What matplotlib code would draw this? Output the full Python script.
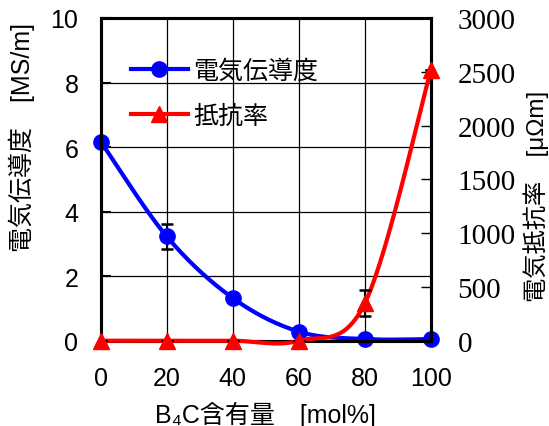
import numpy as np
import matplotlib
matplotlib.use("Agg")
import matplotlib.pyplot as plt

plt.rcParams["font.family"] = ["Liberation Sans", "Noto Sans CJK JP", "DejaVu Sans"]

# data
b4c = [0, 20, 40, 60, 80, 100]
conductivity = [6.17, 3.23, 1.32, 0.28, 0.05, 0.05]          # MS/m
cond_err = [0, 0.4, 0, 0, 0, 0]
resistivity = [0, 0, 0, 0, 350, 2520]                        # uOhm m
res_err = [0, 0, 0, 0, 120, 0]

x_ticks = [0, 20, 40, 60, 80, 100]
left_ticks = [0, 2, 4, 6, 8, 10]
right_ticks = [0, 500, 1000, 1500, 2000, 2500, 3000]


def smooth(xs, ys, xspan, yspan, n=40):
    # Excel-like smoothed line (cubic bezier through the points)
    p = np.column_stack([np.asarray(xs, float) / xspan, np.asarray(ys, float) / yspan])
    ext = np.vstack([p[0], p, p[-1]])
    out = []
    t = np.linspace(0, 1, n)[:, None]
    for i in range(len(p) - 1):
        p0, p3 = ext[i + 1], ext[i + 2]
        c1 = p0 + (ext[i + 2] - ext[i]) / 6
        c2 = p3 - (ext[i + 3] - ext[i + 1]) / 6
        seg = (1 - t) ** 3 * p0 + 3 * (1 - t) ** 2 * t * c1 + 3 * (1 - t) * t ** 2 * c2 + t ** 3 * p3
        out.append(seg)
    out = np.vstack(out)
    return out[:, 0] * xspan, out[:, 1] * yspan


fig = plt.figure(figsize=(5.49, 4.27), dpi=100)
ax = fig.add_axes([100.7 / 549, (427 - 341.7) / 427, 330.3 / 549, 322.7 / 427])
ax2 = ax.twinx()

ax.set_xlim(0, 100)
ax.set_ylim(0, 10)
ax2.set_ylim(0, 3000)

ax.grid(True, color="black", linewidth=0.9)
ax.set_axisbelow(True)

sx, sy = smooth(b4c, conductivity, 100, 10)
ax.plot(sx, sy, color="#0000ff", lw=3, clip_on=False, zorder=3)
ax.errorbar(b4c, conductivity, yerr=cond_err, fmt="none", ecolor="black",
            elinewidth=1.5, capsize=4, capthick=1.8, zorder=4)
ax.plot(b4c, conductivity, "o", color="#0000ff", ms=11, clip_on=False, zorder=5)

rx, ry = smooth(b4c, resistivity, 100, 3000)
ax2.plot(rx, ry, color="#ff0000", lw=3, clip_on=False, zorder=3)
ax2.errorbar(b4c, resistivity, yerr=res_err, fmt="none", ecolor="black",
             elinewidth=1.5, capsize=4, capthick=1.8, zorder=4)
ax2.plot(b4c, resistivity, "^", color="#ff0000", ms=11, clip_on=False, zorder=5)

for a in (ax, ax2):
    for s in a.spines.values():
        s.set_linewidth(2.2)

ax.set_xticks(x_ticks)
ax.set_yticks(left_ticks)
ax2.set_yticks(right_ticks)
ax.tick_params(axis="x", length=0, pad=18, labelsize=18)
ax.tick_params(axis="y", direction="in", length=7, width=1.5, pad=16, labelsize=18)
ax2.tick_params(axis="y", direction="in", length=7, width=1, pad=19, labelsize=21)
for lab in ax2.get_yticklabels():
    lab.set_family(["Liberation Serif", "DejaVu Serif"])

ax.set_xlabel("B₄C含有量　[mol%]", fontsize=18, labelpad=8)
ax.set_ylabel("電気伝導度　[MS/m]", fontsize=18)
ax.yaxis.set_label_coords(-0.2, 0.634)
ax2.set_ylabel("電気抵抗率　[μΩm]", fontsize=17.5)
ax2.yaxis.set_label_coords(1.28, 0.45)

h1 = plt.Line2D([], [], color="#0000ff", lw=3, marker="o", ms=11)
h2 = plt.Line2D([], [], color="#ff0000", lw=3, marker="^", ms=11)
ax2.legend([h1, h2], ["電気伝導度", "抵抗率"], loc="upper left",
           bbox_to_anchor=(0.06, 0.905), frameon=False, fontsize=18,
           handlelength=2.3, handletextpad=0.2, labelspacing=0.85,
           borderaxespad=0)

fig.savefig("out.png", dpi=100)
